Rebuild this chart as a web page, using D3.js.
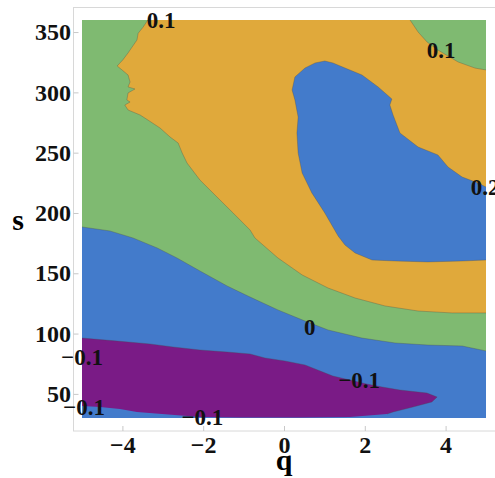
<!DOCTYPE html>
<html>
<head>
  <meta charset="utf-8">
  <title>Contour plot q / s</title>
  <script type="text/javascript" src="https://cdn.jsdelivr.net/npm/d3@7"></script>
  <style>
    body {
      margin: 0;
      background: #fff;
    }
    text {
      font-family: "Liberation Serif", "Times New Roman", serif;
      font-weight: bold;
    }
  </style>
</head>
<body>
    <svg id="chart"></svg>
    <script>
        // axis ranges and ticks
        var qDomain = [-5, 5],
            sDomain = [30, 360];
        var qTicks = [-4, -2, 0, 2, 4];
        var sTicks = [50, 100, 150, 200, 250, 300, 350];

        // contour lines, as [q, s]
        // level 0.1, left branch: from top edge down to right edge
        var contour01Left = [[-3.37, 360], [-3.49, 354], [-3.61, 349], [-3.64, 343.4], [-3.76, 337.6],
            [-3.86, 332.7], [-3.99, 326.9], [-4.13, 321.9], [-4.01, 318.6], [-3.86, 314.4], [-3.81, 308.6],
            [-3.86, 304.5], [-3.69, 302.8], [-3.86, 299.5], [-3.89, 293.7], [-3.81, 292], [-3.94, 289.5],
            [-3.86, 285.4], [-3.56, 281.2], [-3.37, 277.1], [-3.07, 270.5], [-2.82, 263], [-2.62, 258],
            [-2.52, 249.7], [-2.4, 241.4], [-2.08, 227.3], [-1.66, 213.3], [-1.26, 200], [-0.84, 185.9],
            [-0.72, 179.3], [-0.15, 162.7], [0.45, 148.6], [1.09, 137.8], [1.76, 129.5], [2.5, 122.9],
            [3.32, 118.7], [4.16, 117.1], [5, 117.1]];
        // level 0.1, top right corner
        var contour01Right = [[3.12, 360], [3.32, 350], [3.54, 341.8], [3.81, 335.1], [4.31, 325.2],
            [4.73, 320.1], [5, 318.6]];
        // level 0.2, closed blob
        var contour02 = [[1.01, 326], [1.21, 324.4], [1.51, 320.2], [1.93, 314.4], [2.33, 304.5],
            [2.67, 294.5], [2.62, 289.5], [2.7, 281.2], [2.87, 266.3], [3.32, 254.7], [3.81, 248.1],
            [4.06, 238.1], [4.41, 229.8], [4.8, 224.9], [5, 221.5], [5, 161], [4.41, 160.2], [3.56, 159.4],
            [2.75, 160.2], [2.18, 161], [1.76, 166.8], [1.51, 173.4], [1.34, 180.9], [1.01, 200],
            [0.69, 216.6], [0.45, 233.1], [0.35, 249.7], [0.32, 266.3], [0.35, 279.6], [0.27, 293.7],
            [0.2, 302], [0.27, 312.8], [0.52, 320.2], [0.77, 324.4]];
        // level 0
        var contour00 = [[-5, 188.4], [-4.31, 185.1], [-3.74, 179.3], [-3.14, 171], [-2.65, 162.7],
            [-2.08, 151.9], [-1.41, 139.5], [-0.84, 130.3], [-0.15, 119.6], [0.52, 110.4], [1.09, 103],
            [1.93, 96.3], [2.75, 92.2], [3.56, 90.5], [4.41, 89.7], [5, 85.6]];
        // level -0.1, purple tongue
        var contourM01 = [[-5, 96.3], [-4.13, 93.8], [-3.32, 91.4], [-2.75, 88.9], [-2.08, 86.4],
            [-1.41, 84.7], [-0.84, 83.1], [-0.47, 79.8], [0.02, 77.3], [0.52, 74], [1.21, 64.8],
            [2.05, 58.2], [2.43, 55.7], [2.87, 53.2], [3.54, 50.7], [3.79, 47.4], [3.66, 43.3],
            [3.19, 39.1], [2.7, 35], [2.55, 33.3], [1.63, 30.8], [0.4, 30.5], [-1.09, 30.4],
            [-2.08, 30.8], [-3.64, 35], [-4.06, 37.5], [-4.55, 39.1], [-5, 40]];

        var labelText = ["0.1", "0.1", "0.2", "0", "\u22120.1", "\u22120.1", "\u22120.1", "\u22120.1"];
        var labelQ = [-3.04, 3.89, 4.98, 0.64, 1.86, -5.0, -4.95, -2.02];
        var labelS = [353.4, 328.5, 214.9, 98.8, 54.9, 74, 32.5, 24.2];

        var colors = {
            green: "#7fba71",
            orange: "#e0a93b",
            blue: "#437bcb",
            purple: "#7a1b86"
        };

        var width = 495, height = 478;
        var svg = d3.select("#chart")
            .attr("width", width)
            .attr("height", height);

        var x = d3.scaleLinear().domain(qDomain).range([82, 486]);
        var y = d3.scaleLinear().domain(sDomain).range([418, 20]);

        var line = d3.line()
            .x(function(d) { return x(d[0]); })
            .y(function(d) { return y(d[1]); });

        // frame
        svg.append("rect")
            .attr("x", 73.5).attr("y", 7.5)
            .attr("width", 422).attr("height", 423.5)
            .attr("fill", "none")
            .attr("stroke", "#d8d8d8");

        svg.append("clipPath").attr("id", "plot-clip")
          .append("rect")
            .attr("x", x(qDomain[0])).attr("y", y(sDomain[1]))
            .attr("width", x(qDomain[1]) - x(qDomain[0]))
            .attr("height", y(sDomain[0]) - y(sDomain[1]));

        var plot = svg.append("g").attr("clip-path", "url(#plot-clip)");

        var corners = [[qDomain[0], sDomain[0]], [qDomain[0], sDomain[1]],
                       [qDomain[1], sDomain[1]], [qDomain[1], sDomain[0]]];

        // background band 0 .. 0.1
        plot.append("path")
            .attr("d", line(corners) + "Z")
            .attr("fill", colors.green);

        // 0.1 .. 0.2
        plot.append("path")
            .attr("d", line(contour01Right.concat(contour01Left.slice().reverse())) + "Z")
            .attr("fill", colors.orange);

        // > 0.2
        plot.append("path")
            .attr("d", line(contour02) + "Z")
            .attr("fill", colors.blue);

        // -0.1 .. 0
        plot.append("path")
            .attr("d", line(contour00.concat([[qDomain[1], sDomain[0]], [qDomain[0], sDomain[0]]])) + "Z")
            .attr("fill", colors.blue);

        // < -0.1
        plot.append("path")
            .attr("d", line(contourM01) + "Z")
            .attr("fill", colors.purple);

        // contour strokes
        [contour01Left, contour01Right, contour00, contourM01.slice(0, 20)].forEach(function(c) {
            plot.append("path")
                .attr("d", line(c))
                .attr("fill", "none")
                .attr("stroke", "#4a4a4a")
                .attr("stroke-opacity", 0.45)
                .attr("stroke-width", 0.7);
        });
        plot.append("path")
            .attr("d", line(contour02.slice(15).concat(contour02.slice(0, 15))))
            .attr("fill", "none")
            .attr("stroke", "#4a4a4a")
            .attr("stroke-opacity", 0.45)
            .attr("stroke-width", 0.7);

        // contour labels
        svg.append("g").selectAll("text")
            .data(labelText)
            .join("text")
            .attr("x", function(d, i) { return x(labelQ[i]); })
            .attr("y", function(d, i) { return y(labelS[i]); })
            .attr("text-anchor", "middle")
            .attr("font-size", 23)
            .attr("fill", "#111")
            .text(function(d) { return d; });

        // axes
        var xAxis = svg.append("g")
            .attr("transform", "translate(0,431)")
            .call(d3.axisBottom(x).tickValues(qTicks).tickSize(-5).tickPadding(4.5));
        var yAxis = svg.append("g")
            .attr("transform", "translate(73.5,0)")
            .call(d3.axisLeft(y).tickValues(sTicks).tickSize(-5).tickPadding(2.5));

        [xAxis, yAxis].forEach(function(a) {
            a.select(".domain").remove();
            a.selectAll(".tick line").attr("stroke", "#c8c8c8");
            a.selectAll(".tick text")
                .attr("font-size", 24)
                .attr("font-family", "'Liberation Serif', 'Times New Roman', serif")
                .attr("font-weight", "bold")
                .attr("fill", "#111");
        });

        // axis titles
        svg.append("text")
            .attr("x", 18).attr("y", 230)
            .attr("text-anchor", "middle")
            .attr("font-size", 30)
            .text("s");
        svg.append("text")
            .attr("x", x(0)).attr("y", 470)
            .attr("text-anchor", "middle")
            .attr("font-size", 30)
            .text("q");
    </script>
</body>
</html>
